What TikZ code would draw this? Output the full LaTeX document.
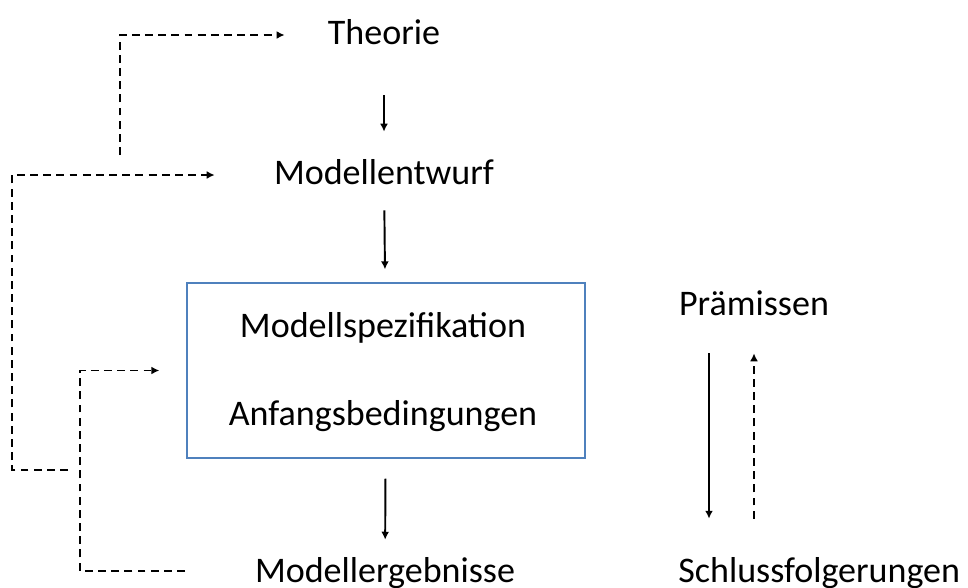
\documentclass[tikz,border=0pt]{standalone}
\usepackage{fontspec}
\setmainfont{Carlito}
\usetikzlibrary{arrows.meta}
\definecolor{boxblue}{RGB}{79,129,189}
\tikzset{
  lbl/.style={inner sep=0pt,text height=0.5cm,text depth=0.14cm,anchor=base,font=\fontsize{20.5}{24}\selectfont},
  arr/.style={line width=1.1pt,-{Latex[length=4.5pt,width=4.5pt]}},
  dasharr/.style={arr,dash pattern=on 4.5pt off 3pt},
  dashline/.style={line width=1.1pt,dash pattern=on 4.5pt off 3pt}
}
\begin{document}
\begin{tikzpicture}
		\useasboundingbox (0,0) rectangle (19.36,-11.74);
		% Modellkette
		\node[lbl] (theo) at (7.68,-0.88) {Theorie};
		\node[lbl] (entw) at (7.68,-3.68) {Modellentwurf};
		\node[draw=boxblue,line width=0.8pt,minimum width=7.96cm,minimum height=3.5cm] (box) at (7.72,-7.41) {};
		\node[lbl] (spez) at (7.66,-6.74) {Modellspezifikation};
		\node[lbl] (anf) at (7.66,-8.5) {Anfangsbedingungen};
		\node[lbl] (erg) at (7.70,-11.64) {Modellergebnisse};
		
		\draw[arr,shorten <=0.88cm,shorten >=0.54cm] (theo) -- (entw);
		\draw[arr,shorten <=0.38cm,shorten >=0.26cm] (entw) -- (box);
		\draw[arr,shorten <=0.4cm,shorten >=0.34cm] (box) -- (erg);
		
		% Rueckkopplungen
		\coordinate (fb1) at (2.4,-3.1);
		\coordinate (fb2) at (1.36,-9.4);
		\coordinate (fb3) at (3.7,-11.42);
		\draw[dasharr,shorten >=0.86cm] (fb1) |- (theo.west);
		\draw[dasharr,shorten >=1.18cm] (fb2) -- ++(-1.12,0) |- (entw.west);
		\draw[dasharr,shorten >=0.54cm] (fb3) -- ++(-2.1,0) |- (box.west);
		
		% Praemissen
		\node[lbl] (praem) at (15.08,-6.3) {Prämissen};
		\node[lbl,anchor=base west] (schl) at (13.56,-11.64) {Schlussfolgerungen};
		\draw[arr,shorten <=0.62cm] ([xshift=-0.9cm]praem.south) -- ([xshift=-0.9cm,yshift=0.76cm]praem.south |- schl.north);
		\draw[dasharr,shorten <=0.76cm] (praem.south |- schl.north) -- ([yshift=-0.62cm]praem.south);
		\end{tikzpicture}
\end{document}
